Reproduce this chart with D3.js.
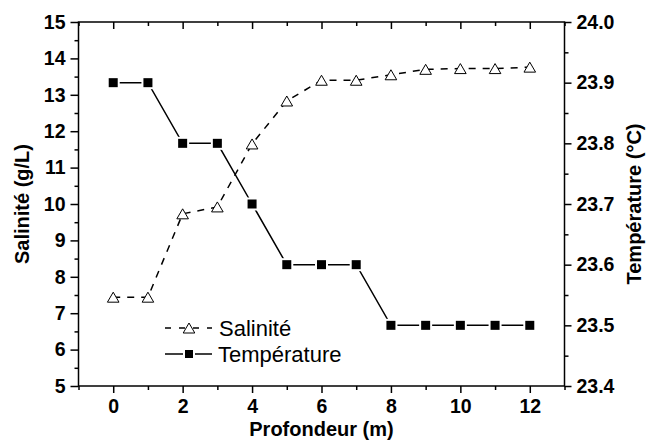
<!DOCTYPE html>
<html><head><meta charset="utf-8">
<script src="https://cdn.jsdelivr.net/npm/d3@7"></script>
<style>body{margin:0;background:#fff}svg text{font-family:"Liberation Sans",Arial,sans-serif}</style>
</head><body><svg id="c" width="652" height="441"></svg>
<script>
const depth=[0,1,2,3,4,5,6,7,8,9,10,11,12];
const salinity=[7.44,7.44,9.73,9.92,11.65,12.83,13.4,13.4,13.55,13.7,13.72,13.72,13.76];
const temperature=[23.9,23.9,23.8,23.8,23.7,23.6,23.6,23.6,23.5,23.5,23.5,23.5,23.5];
const xTicks=[0,2,4,6,8,10,12];
const xMinor=[-1,1,3,5,7,9,11,13];
const salTicks=[5,6,7,8,9,10,11,12,13,14,15];
const salMinor=[5.5,6.5,7.5,8.5,9.5,10.5,11.5,12.5,13.5,14.5];
const tempTicks=[23.4,23.5,23.6,23.7,23.8,23.9,24.0];
const tempMinor=[23.45,23.55,23.65,23.75,23.85,23.95];
const labels={x:"Profondeur (m)",yl:"Salinité (g/L)",yr:"Température (°C)",s:"Salinité",t:"Température"};

const L=78.5,R=564.5,T=22,B=386;
const svg=d3.select("#c");
const x=d3.scaleLinear().domain([-1,13]).range([L,R]);
const yS=d3.scaleLinear().domain([5,15]).range([B,T]);
const yT=d3.scaleLinear().domain([23.4,24.0]).range([B,T]);

function styleAxis(g){
  g.attr("font-family","'Liberation Sans',Arial,sans-serif").attr("font-size",19).attr("font-weight","bold");
  g.select(".domain").remove();
  g.selectAll(".tick line").attr("stroke","#000").attr("stroke-width",1.5);
  g.selectAll("text").attr("fill","#000").attr("font-weight","bold").style("font-weight","700").style("font-size","19.5px");
}
// bottom
const gb=svg.append("g").attr("transform",`translate(0,${B})`);
gb.call(d3.axisBottom(x).tickValues(xTicks).tickSize(7).tickPadding(6).tickFormat(d3.format("d")));
styleAxis(gb);
const gbm=svg.append("g").attr("transform",`translate(0,${B})`);
gbm.call(d3.axisBottom(x).tickValues(xMinor).tickSize(4).tickFormat(""));styleAxis(gbm);
// top (inward)
const gt=svg.append("g").attr("transform",`translate(0,${T})`);
gt.call(d3.axisBottom(x).tickValues(xTicks).tickSize(7).tickFormat(""));styleAxis(gt);
const gtm=svg.append("g").attr("transform",`translate(0,${T})`);
gtm.call(d3.axisBottom(x).tickValues(xMinor).tickSize(4).tickFormat(""));styleAxis(gtm);
// left
const gl=svg.append("g").attr("transform",`translate(${L},0)`);
gl.call(d3.axisLeft(yS).tickValues(salTicks).tickSize(8).tickPadding(5).tickFormat(d3.format("d")));styleAxis(gl);
const glm=svg.append("g").attr("transform",`translate(${L},0)`);
glm.call(d3.axisLeft(yS).tickValues(salMinor).tickSize(4).tickFormat(""));styleAxis(glm);
// right
const gr=svg.append("g").attr("transform",`translate(${R},0)`);
gr.call(d3.axisRight(yT).tickValues(tempTicks).tickSize(7).tickPadding(5).tickFormat(d3.format(".1f")));styleAxis(gr);
const grm=svg.append("g").attr("transform",`translate(${R},0)`);
grm.call(d3.axisRight(yT).tickValues(tempMinor).tickSize(4).tickFormat(""));styleAxis(grm);
// frame
svg.append("rect").attr("x",L).attr("y",T).attr("width",R-L).attr("height",B-T)
  .attr("fill","none").attr("stroke","#000").attr("stroke-width",1.5);

// titles
svg.append("text").attr("x",(L+R)/2).attr("y",436).attr("text-anchor","middle")
  .attr("font-weight","bold").style("font-size","20px").text(labels.x);
svg.append("text").attr("transform",`translate(29,${(T+B)/2}) rotate(-90)`).attr("text-anchor","middle")
  .attr("font-weight","bold").style("font-size","20px").text(labels.yl);
svg.append("text").attr("transform",`translate(641,${(T+B)/2}) rotate(-90)`).attr("text-anchor","middle")
  .attr("font-weight","bold").style("font-size","20px").text(labels.yr);

// lines
const data=depth.map((d,i)=>({d,s:salinity[i],t:temperature[i]}));
svg.append("path").datum(data).attr("fill","none").attr("stroke","#000").attr("stroke-width",1.5)
  .attr("stroke-dasharray","7,7")
  .attr("d",d3.line().x(p=>x(p.d)).y(p=>yS(p.s)));
svg.append("path").datum(data).attr("fill","none").attr("stroke","#000").attr("stroke-width",1.5)
  .attr("d",d3.line().x(p=>x(p.d)).y(p=>yT(p.t)));

function tri(cx,cy){const w=5.8,h=5;return `M${cx},${cy-h}L${cx+w},${cy+h}L${cx-w},${cy+h}Z`;}
// markers
svg.append("g").selectAll("path").data(data).join("path")
  .attr("d",p=>tri(x(p.d),yS(p.s))).attr("fill","#fff").attr("stroke","#000").attr("stroke-width",1);
const sq=svg.append("g");
sq.selectAll("rect.w").data(data).join("rect").attr("class","w")
  .attr("x",p=>x(p.d)-6.5).attr("y",p=>yT(p.t)-6.5).attr("width",13).attr("height",13).attr("fill","#fff");
sq.selectAll("rect.b").data(data).join("rect").attr("class","b")
  .attr("x",p=>x(p.d)-4.5).attr("y",p=>yT(p.t)-4.5).attr("width",9).attr("height",9).attr("fill","#000");

// legend
const lg=svg.append("g");
const ly1=328, ly2=354, lx0=165, lx1=212, lm=189;
lg.append("line").attr("x1",lx0).attr("x2",lx1).attr("y1",ly1).attr("y2",ly1)
  .attr("stroke","#000").attr("stroke-width",1.5).attr("stroke-dasharray","6,8");
lg.append("path").attr("d",tri(lm,ly1)).attr("fill","#fff").attr("stroke","#000").attr("stroke-width",1);
lg.append("line").attr("x1",lx0).attr("x2",lx1).attr("y1",ly2).attr("y2",ly2)
  .attr("stroke","#000").attr("stroke-width",1.5);
lg.append("rect").attr("x",lm-6).attr("y",ly2-6).attr("width",12).attr("height",12).attr("fill","#fff");
lg.append("rect").attr("x",lm-4).attr("y",ly2-4).attr("width",8).attr("height",8).attr("fill","#000");
lg.append("text").attr("x",219).attr("y",ly1).attr("dy","0.35em").style("font-size","22px").text(labels.s);
lg.append("text").attr("x",218).attr("y",ly2).attr("dy","0.35em").style("font-size","22px").text(labels.t);
</script></body></html>
